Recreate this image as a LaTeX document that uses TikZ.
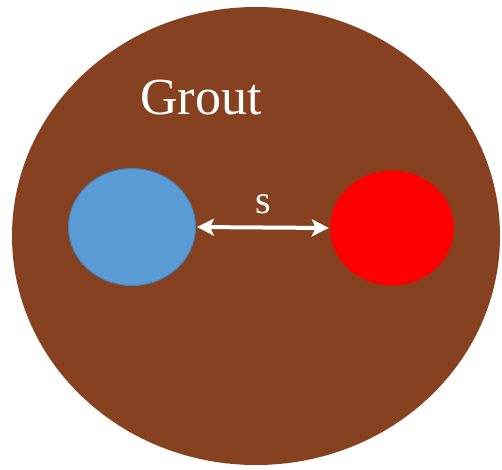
\documentclass[tikz,border=0pt]{standalone}
\usepackage{fontspec}
\setmainfont{Liberation Serif}
\usetikzlibrary{positioning,arrows.meta,shapes.geometric}
\definecolor{groutBrown}{HTML}{864220}
\definecolor{barBlue}{HTML}{5B9BD5}
\definecolor{barBlueEdge}{HTML}{4A82B8}
\definecolor{barRed}{HTML}{FF0000}

\begin{document}
\begin{tikzpicture}[
  x=1pt,y=1pt,
  bar/.style={ellipse,inner sep=0pt},
  label/.style={text=white,anchor=base,inner sep=0pt}
]
  \useasboundingbox (0,0) rectangle (502,469);
  \node[ellipse,fill=groutBrown,minimum width=488,minimum height=458,inner sep=0pt] (grout) at (256,233) {};
  \node[bar,fill=barBlue,draw=barBlueEdge,line width=1pt,minimum width=127,minimum height=117] (blue) at (132,242) {};
  \node[bar,fill=barRed,minimum width=124,minimum height=115] (red) at (392,241) {};
  \draw[{Stealth[length=17pt,width=17pt,inset=4pt]}-{Stealth[length=17pt,width=17pt,inset=4pt]},line width=4pt,white,shorten <=1pt,shorten >=1pt] (blue.east) -- (red.west);
  \node[label,font=\fontsize{40}{44}\selectfont] (spacing) at (263,256) {s};
  \node[label,font=\fontsize{52}{58}\selectfont] (groutlabel) at (201,354) {Grout};
\end{tikzpicture}
\end{document}
